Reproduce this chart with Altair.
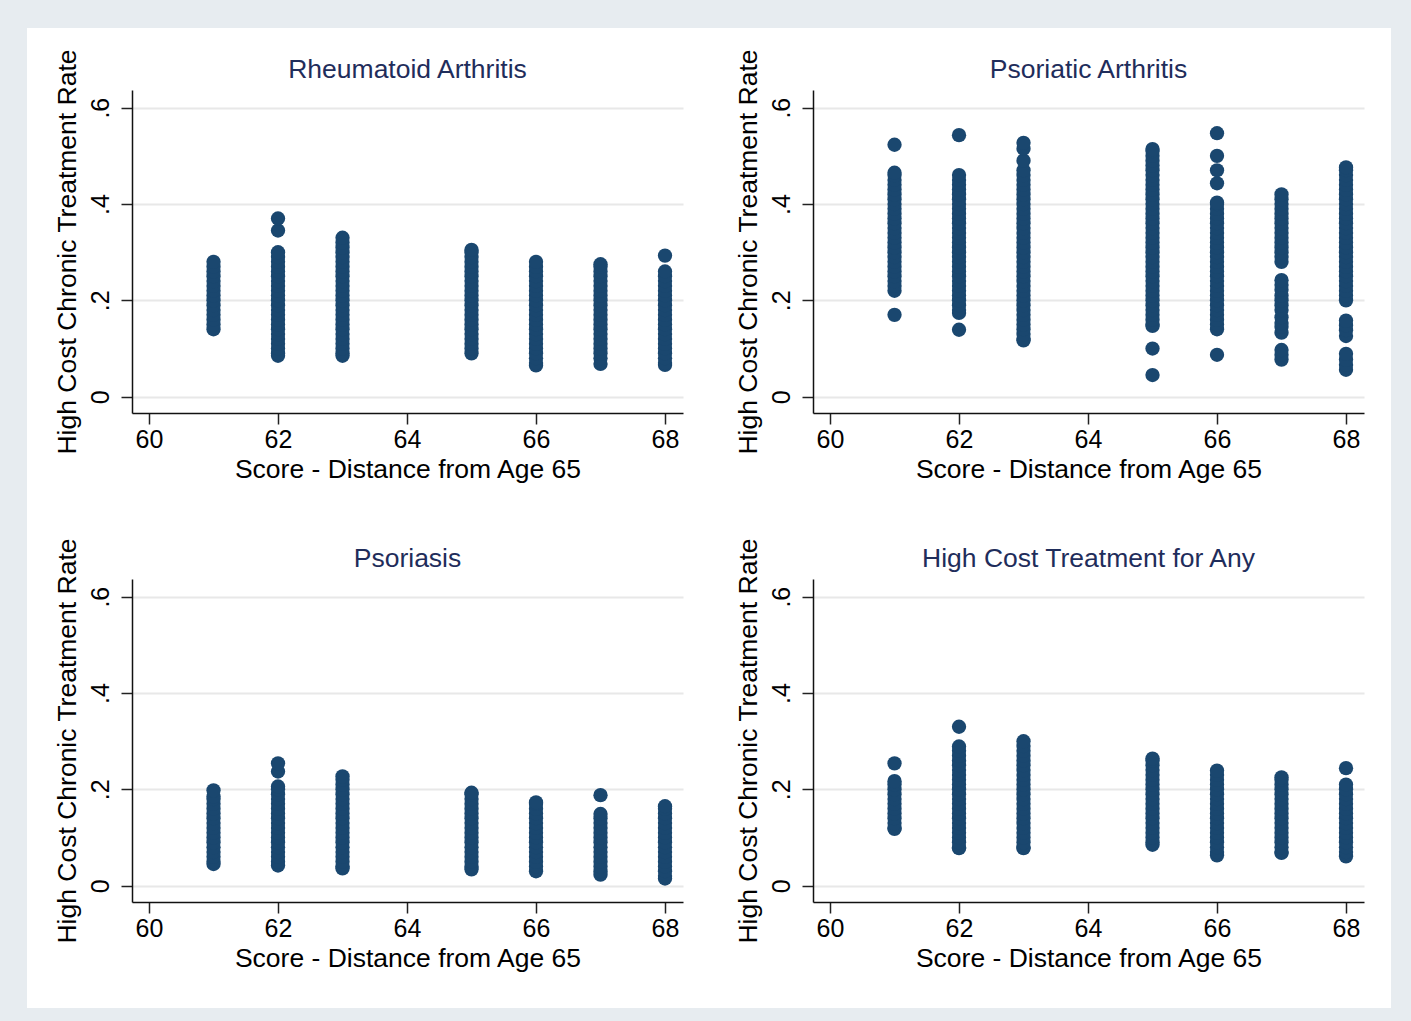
import altair as alt
import pandas as pd

NAVY = "#1a476f"
TITLE_COLOR = "#1f2d5b"
FRAME = "#e7ecf0"
FONT = "Liberation Sans"

panel_titles = ["Rheumatoid Arthritis", "Psoriatic Arthritis", "Psoriasis", "High Cost Treatment for Any"]
x_title = "Score - Distance from Age 65"
y_title = "High Cost Chronic Treatment Rate"
x_ticks = [60, 62, 64, 66, 68]
y_ticks = [0, 0.2, 0.4, 0.6]
scores = [61, 62, 63, 65, 66, 67, 68]

# Rheumatoid Arthritis
ra_61 = [0.14, 0.15, 0.16, 0.17, 0.18, 0.19, 0.20, 0.21, 0.22, 0.23, 0.24, 0.25, 0.26, 0.27, 0.28]
ra_62 = [0.085, 0.09, 0.10, 0.11, 0.12, 0.13, 0.14, 0.15, 0.16, 0.17, 0.18, 0.19, 0.20, 0.21, 0.22, 0.23,
         0.24, 0.25, 0.26, 0.27, 0.28, 0.29, 0.30, 0.345, 0.37]
ra_63 = [0.085, 0.09, 0.10, 0.11, 0.12, 0.13, 0.14, 0.15, 0.16, 0.17, 0.18, 0.19, 0.20, 0.21, 0.22, 0.23,
         0.24, 0.25, 0.26, 0.27, 0.28, 0.29, 0.30, 0.31, 0.32, 0.33]
ra_65 = [0.09, 0.10, 0.11, 0.12, 0.13, 0.14, 0.15, 0.16, 0.17, 0.18, 0.19, 0.20, 0.21, 0.22, 0.23, 0.24,
         0.25, 0.26, 0.27, 0.28, 0.29, 0.30, 0.305]
ra_66 = [0.065, 0.07, 0.08, 0.09, 0.10, 0.11, 0.12, 0.13, 0.14, 0.15, 0.16, 0.17, 0.18, 0.19, 0.20, 0.21,
         0.22, 0.23, 0.24, 0.25, 0.26, 0.27, 0.28]
ra_67 = [0.068, 0.08, 0.09, 0.10, 0.11, 0.12, 0.13, 0.14, 0.15, 0.16, 0.17, 0.18, 0.19, 0.20, 0.21, 0.22,
         0.23, 0.24, 0.25, 0.26, 0.27, 0.275]
ra_68 = [0.066, 0.07, 0.08, 0.09, 0.10, 0.11, 0.12, 0.13, 0.14, 0.15, 0.16, 0.17, 0.18, 0.19, 0.20, 0.21,
         0.22, 0.23, 0.24, 0.25, 0.26, 0.293]

# Psoriatic Arthritis
psa_61 = [0.17, 0.22, 0.23, 0.24, 0.25, 0.26, 0.27, 0.28, 0.29, 0.30, 0.31, 0.32, 0.33, 0.34, 0.35, 0.36,
          0.37, 0.38, 0.39, 0.40, 0.41, 0.42, 0.43, 0.44, 0.45, 0.46, 0.465, 0.523]
psa_62 = [0.139, 0.174, 0.18, 0.19, 0.20, 0.21, 0.22, 0.23, 0.24, 0.25, 0.26, 0.27, 0.28, 0.29, 0.30, 0.31,
          0.32, 0.33, 0.34, 0.35, 0.36, 0.37, 0.38, 0.39, 0.40, 0.41, 0.42, 0.43, 0.44, 0.45, 0.46, 0.543]
psa_63 = [0.117, 0.12, 0.13, 0.14, 0.15, 0.16, 0.17, 0.18, 0.19, 0.20, 0.21, 0.22, 0.23, 0.24, 0.25, 0.26,
          0.27, 0.28, 0.29, 0.30, 0.31, 0.32, 0.33, 0.34, 0.35, 0.36, 0.37, 0.38, 0.39, 0.40, 0.41, 0.42,
          0.43, 0.44, 0.45, 0.46, 0.47, 0.49, 0.515, 0.527]
psa_65 = [0.045, 0.10, 0.147, 0.15, 0.16, 0.17, 0.18, 0.19, 0.20, 0.21, 0.22, 0.23, 0.24, 0.25, 0.26, 0.27,
          0.28, 0.29, 0.30, 0.31, 0.32, 0.33, 0.34, 0.35, 0.36, 0.37, 0.38, 0.39, 0.40, 0.41, 0.42, 0.43,
          0.44, 0.45, 0.46, 0.47, 0.48, 0.49, 0.50, 0.51, 0.514]
psa_66 = [0.087, 0.14, 0.15, 0.16, 0.17, 0.18, 0.19, 0.20, 0.21, 0.22, 0.23, 0.24, 0.25, 0.26, 0.27, 0.28,
          0.29, 0.30, 0.31, 0.32, 0.33, 0.34, 0.35, 0.36, 0.37, 0.38, 0.39, 0.40, 0.403, 0.443, 0.47, 0.50,
          0.547]
psa_67 = [0.077, 0.087, 0.097, 0.133, 0.145, 0.153, 0.165, 0.18, 0.19, 0.20, 0.21, 0.222, 0.232, 0.242,
          0.28, 0.29, 0.30, 0.31, 0.32, 0.33, 0.34, 0.35, 0.36, 0.37, 0.38, 0.39, 0.40, 0.41, 0.42]
psa_68 = [0.056, 0.066, 0.077, 0.089, 0.126, 0.138, 0.148, 0.158, 0.20, 0.21, 0.22, 0.23, 0.24, 0.25, 0.26,
          0.27, 0.28, 0.29, 0.30, 0.31, 0.32, 0.33, 0.34, 0.35, 0.36, 0.37, 0.38, 0.39, 0.40, 0.41, 0.42,
          0.43, 0.44, 0.45, 0.46, 0.47, 0.476]

# Psoriasis
ps_61 = [0.045, 0.05, 0.06, 0.07, 0.08, 0.09, 0.10, 0.11, 0.12, 0.13, 0.14, 0.15, 0.16, 0.17, 0.18, 0.185,
         0.198]
ps_62 = [0.042, 0.05, 0.06, 0.07, 0.08, 0.09, 0.10, 0.11, 0.12, 0.13, 0.14, 0.15, 0.16, 0.17, 0.18, 0.19,
         0.20, 0.206, 0.237, 0.254]
ps_63 = [0.036, 0.04, 0.05, 0.06, 0.07, 0.08, 0.09, 0.10, 0.11, 0.12, 0.13, 0.14, 0.15, 0.16, 0.17, 0.18,
         0.19, 0.20, 0.21, 0.22, 0.227]
ps_65 = [0.034, 0.04, 0.05, 0.06, 0.07, 0.08, 0.09, 0.10, 0.11, 0.12, 0.13, 0.14, 0.15, 0.16, 0.17, 0.18,
         0.19, 0.193]
ps_66 = [0.03, 0.04, 0.05, 0.06, 0.07, 0.08, 0.09, 0.10, 0.11, 0.12, 0.13, 0.14, 0.15, 0.16, 0.17, 0.173]
ps_67 = [0.023, 0.03, 0.04, 0.05, 0.06, 0.07, 0.08, 0.09, 0.10, 0.11, 0.12, 0.13, 0.14, 0.149, 0.188]
ps_68 = [0.015, 0.02, 0.03, 0.04, 0.05, 0.06, 0.07, 0.08, 0.09, 0.10, 0.11, 0.12, 0.13, 0.14, 0.15, 0.16,
         0.165]

# High Cost Treatment for Any
any_61 = [0.118, 0.12, 0.13, 0.14, 0.15, 0.16, 0.17, 0.18, 0.19, 0.20, 0.21, 0.217, 0.254]
any_62 = [0.078, 0.08, 0.09, 0.10, 0.11, 0.12, 0.13, 0.14, 0.15, 0.16, 0.17, 0.18, 0.19, 0.20, 0.21, 0.22,
          0.23, 0.24, 0.25, 0.26, 0.27, 0.28, 0.289, 0.33]
any_63 = [0.078, 0.08, 0.09, 0.10, 0.11, 0.12, 0.13, 0.14, 0.15, 0.16, 0.17, 0.18, 0.19, 0.20, 0.21, 0.22,
          0.23, 0.24, 0.25, 0.26, 0.27, 0.28, 0.29, 0.30]
any_65 = [0.085, 0.09, 0.10, 0.11, 0.12, 0.13, 0.14, 0.15, 0.16, 0.17, 0.18, 0.19, 0.20, 0.21, 0.22, 0.23,
          0.24, 0.25, 0.26, 0.264]
any_66 = [0.063, 0.07, 0.08, 0.09, 0.10, 0.11, 0.12, 0.13, 0.14, 0.15, 0.16, 0.17, 0.18, 0.19, 0.20, 0.21,
          0.22, 0.23, 0.239]
any_67 = [0.068, 0.07, 0.08, 0.09, 0.10, 0.11, 0.12, 0.13, 0.14, 0.15, 0.16, 0.17, 0.18, 0.19, 0.20, 0.21,
          0.22, 0.225]
any_68 = [0.061, 0.07, 0.08, 0.09, 0.10, 0.11, 0.12, 0.13, 0.14, 0.15, 0.16, 0.17, 0.18, 0.19, 0.20, 0.21,
          0.244]

panels = [
    [ra_61, ra_62, ra_63, ra_65, ra_66, ra_67, ra_68],
    [psa_61, psa_62, psa_63, psa_65, psa_66, psa_67, psa_68],
    [ps_61, ps_62, ps_63, ps_65, ps_66, ps_67, ps_68],
    [any_61, any_62, any_63, any_65, any_66, any_67, any_68],
]

W, H = 551, 323
X_DOMAIN = [59.736, 68.279]
Y_DOMAIN = [-0.0338, 0.6367]


def make_df(columns):
    rows = []
    for s, vals in zip(scores, columns):
        for v in vals:
            rows.append({"score": s, "rate": v})
    return pd.DataFrame(rows)


one_row = alt.Data(values=[{"k": 1}])


def panel(columns, title, with_frame=False):
    df = make_df(columns)
    pts = alt.Chart(df).mark_circle(size=205, opacity=1, color=NAVY).encode(
        x=alt.X("score:Q",
                scale=alt.Scale(domain=X_DOMAIN, nice=False, zero=False),
                axis=alt.Axis(values=x_ticks, title=x_title, grid=False, format="d",
                              labelFont=FONT, labelFontSize=25, labelColor="black",
                              labelBaseline="alphabetic", labelPadding=23, labelFlush=False,
                              labelOverlap=False,
                              tickSize=11, tickColor="#222222", tickWidth=1.5,
                              domainColor="#111111", domainWidth=1.5,
                              titleFont=FONT, titleFontSize=26.5, titleFontWeight="normal",
                              titleColor="black", titleBaseline="alphabetic", titleAlign="center",
                              titleX=W / 2, titleY=64)),
        y=alt.Y("rate:Q",
                scale=alt.Scale(domain=Y_DOMAIN, nice=False, zero=False),
                axis=alt.Axis(values=y_ticks, title=y_title, grid=True,
                              gridColor="#e8e8e8", gridWidth=2,
                              labelExpr="datum.value == 0 ? '0' : substring(format(datum.value, '.1f'), 1)",
                              labelFont=FONT, labelFontSize=25, labelColor="black",
                              labelAngle=270, labelAlign="center", labelBaseline="alphabetic",
                              labelPadding=13, labelFlush=False, labelOverlap=False,
                              tickSize=11, tickColor="#222222", tickWidth=1.5,
                              domainColor="#111111", domainWidth=1.5,
                              titleFont=FONT, titleFontSize=26.5, titleFontWeight="normal",
                              titleColor="black", titleAngle=270, titleAlign="center",
                              titleBaseline="alphabetic", titleX=-57, titleY=H / 2)),
    )
    ttl = alt.Chart(one_row).mark_text(
        font=FONT, fontSize=26.5, color=TITLE_COLOR, align="center", baseline="alphabetic"
    ).encode(x=alt.value(W / 2), y=alt.value(-12), text=alt.value(title))
    layers = [pts, ttl]
    if with_frame:
        def frame_rect(x1, x2, y1, y2):
            return alt.Chart(one_row).mark_rect(color=FRAME).encode(
                x=alt.value(x1), x2=alt.value(x2), y=alt.value(y1), y2=alt.value(y2))
        layers = [
            frame_rect(-132, 1279, -90, -62),
            frame_rect(-132, 1279, 918, 931),
            frame_rect(-132, -105, -62, 918),
            frame_rect(1259, 1279, -62, 918),
        ] + layers
    return alt.layer(*layers).properties(width=W, height=H)


charts = [panel(panels[i], panel_titles[i], with_frame=(i == 0)) for i in range(4)]

chart = alt.concat(
    *charts, columns=2, spacing={"row": 166, "column": 130}, bounds="flush"
).properties(
    padding=0, background="white"
).configure_view(strokeWidth=0)

chart.save("out.html", embed_options={"renderer": "svg", "actions": False})
